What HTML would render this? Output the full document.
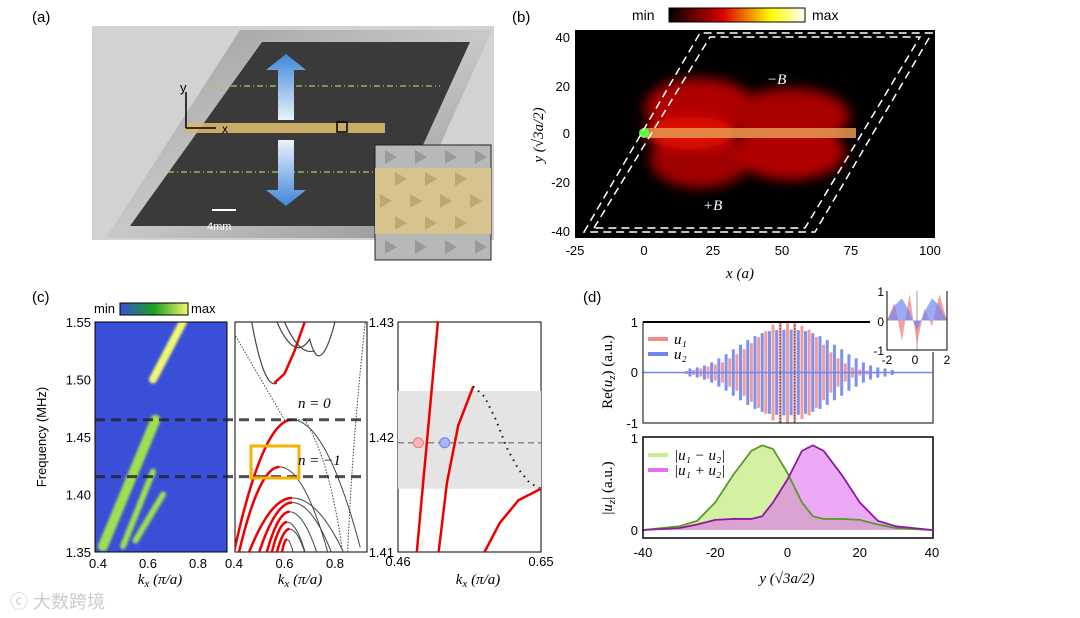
<!DOCTYPE html>
<html><head><meta charset="utf-8"><style>
html,body{margin:0;background:#fff;width:1080px;height:618px;overflow:hidden;}
svg{display:block;font-family:"Liberation Sans",sans-serif;}
.ser{font-family:"Liberation Serif",serif;font-style:italic;}
</style></head><body>
<svg id="fig" width="1080" height="618" viewBox="0 0 1080 618">
<defs>
<linearGradient id="metal" x1="0" y1="0" x2="1" y2="1"><stop offset="0" stop-color="#9a9a9a"/><stop offset="0.5" stop-color="#c8c8c8"/><stop offset="1" stop-color="#8d8d8d"/></linearGradient>
<linearGradient id="arrowG" x1="0" y1="0" x2="0" y2="1"><stop offset="0" stop-color="#3f86d8"/><stop offset="1" stop-color="#eaf2fb"/></linearGradient>
<linearGradient id="arrowG2" x1="0" y1="1" x2="0" y2="0"><stop offset="0" stop-color="#3f86d8"/><stop offset="1" stop-color="#eaf2fb"/></linearGradient>
<linearGradient id="hotbar" x1="0" x2="1"><stop offset="0" stop-color="#000"/><stop offset="0.4" stop-color="#d00"/><stop offset="0.75" stop-color="#ff0"/><stop offset="1" stop-color="#fff"/></linearGradient>
<linearGradient id="gbar" x1="0" x2="1"><stop offset="0" stop-color="#3a4fd8"/><stop offset="0.5" stop-color="#1aa020"/><stop offset="1" stop-color="#f4f86a"/></linearGradient>
<filter id="blur6"><feGaussianBlur stdDeviation="6"/></filter>
<filter id="blur2"><feGaussianBlur stdDeviation="1.4"/></filter>
<clipPath id="cp1"><rect x="95" y="322" width="132" height="230"/></clipPath>
<clipPath id="cp2"><rect x="235" y="322" width="132" height="230"/></clipPath>
<clipPath id="cp3"><rect x="398" y="322" width="143" height="230"/></clipPath>
<clipPath id="cpb"><rect x="575" y="30" width="360" height="208"/></clipPath>
</defs>

<!-- Panel a -->
<g>
<text x="32" y="22" font-size="15">(a)</text>
<rect x="92" y="26" width="402" height="214" fill="#d2d2d2"/>
<polygon points="240,30 492,30 398,238 106,238" fill="url(#metal)"/>
<polygon points="262,42 470,42 386,226 130,226" fill="#3a3a3a"/>
<line x1="205" y1="86" x2="440" y2="86" stroke="#9fd25a" stroke-dasharray="6,3,1,3" stroke-width="1.2"/>
<line x1="168" y1="172" x2="404" y2="172" stroke="#9fd25a" stroke-dasharray="6,3,1,3" stroke-width="1.2"/>
<rect x="185" y="123" width="200" height="10" fill="#d8b86a" opacity="0.9"/>
<rect x="337" y="122" width="10" height="10" fill="none" stroke="#000" stroke-width="1.5"/>
<polygon points="286,54 266,70 278,70 278,120 294,120 294,70 306,70" fill="url(#arrowG)"/>
<polygon points="286,206 266,190 278,190 278,140 294,140 294,190 306,190" fill="url(#arrowG2)"/>
<line x1="186" y1="128" x2="186" y2="92" stroke="#000" stroke-width="1.5"/><line x1="186" y1="128" x2="216" y2="128" stroke="#000" stroke-width="1.5"/>
<text x="180" y="92" font-size="13">y</text><text x="222" y="133" font-size="12">x</text>
<line x1="212" y1="210" x2="236" y2="210" stroke="#fff" stroke-width="2"/>
<text x="207" y="230" font-size="11" fill="#fff">4mm</text>
<g>
<rect x="375" y="145" width="116" height="115" fill="#b8b8b8" stroke="#222"/>
<rect x="375" y="168" width="116" height="66" fill="#d7c38f"/>
<g fill="#9a9a9a">
<polygon points="385,150 397,157 385,164"/><polygon points="415,150 427,157 415,164"/><polygon points="445,150 457,157 445,164"/><polygon points="475,150 487,157 475,164"/>
<polygon points="385,240 397,247 385,254"/><polygon points="415,240 427,247 415,254"/><polygon points="445,240 457,247 445,254"/><polygon points="475,240 487,247 475,254"/>
</g>
<g fill="#bfa86e">
<polygon points="395,172 407,179 395,186"/><polygon points="425,172 437,179 425,186"/><polygon points="455,172 467,179 455,186"/>
<polygon points="380,194 392,201 380,208"/><polygon points="410,194 422,201 410,208"/><polygon points="440,194 452,201 440,208"/><polygon points="470,194 482,201 470,208"/>
<polygon points="395,216 407,223 395,230"/><polygon points="425,216 437,223 425,230"/><polygon points="455,216 467,223 455,230"/>
</g></g>
</g>

<!-- Panel b -->
<g>
<text x="512" y="22" font-size="15">(b)</text>
<text x="632" y="20" font-size="14">min</text>
<rect x="669" y="8" width="136" height="14" fill="url(#hotbar)" stroke="#000"/>
<text x="812" y="20" font-size="14">max</text>
<rect x="575" y="30" width="360" height="208" fill="#000"/>
<g clip-path="url(#cpb)" filter="url(#blur6)">
<ellipse cx="700" cy="108" rx="55" ry="30" fill="#b00000"/>
<ellipse cx="790" cy="116" rx="60" ry="28" fill="#a80000"/>
<ellipse cx="700" cy="160" rx="50" ry="28" fill="#a00000"/>
<ellipse cx="790" cy="152" rx="55" ry="28" fill="#b00000"/>
<ellipse cx="690" cy="133" rx="45" ry="16" fill="#e01000"/>
</g>
<rect x="646" y="128" width="210" height="10" fill="#e89a50" opacity="0.85"/>
<circle cx="644" cy="133" r="5" fill="#5aff40"/>
<polygon points="584,232 700,33 932,33 815,232" fill="none" stroke="#fff" stroke-width="1.5" stroke-dasharray="8,5"/>
<polygon points="594,228 710,37 920,37 805,228" fill="none" stroke="#fff" stroke-width="1.5" stroke-dasharray="8,5"/>
<text x="767" y="84" font-size="15" fill="#fff" class="ser">−B</text>
<text x="703" y="210" font-size="15" fill="#fff" class="ser">+B</text>
<g font-size="13" text-anchor="end">
<text x="570" y="42">40</text><text x="570" y="91">20</text><text x="570" y="138">0</text><text x="570" y="187">-20</text><text x="570" y="236">-40</text></g>
<g font-size="13" text-anchor="middle">
<text x="575" y="255">-25</text><text x="644" y="255">0</text><text x="713" y="255">25</text><text x="782" y="255">50</text><text x="851" y="255">75</text><text x="930" y="255">100</text></g>
<text x="740" y="278" font-size="15" text-anchor="middle" class="ser">x (a)</text>
<text transform="translate(543,135) rotate(-90)" font-size="15" text-anchor="middle" class="ser">y (√3a/2)</text>
</g>

<!-- Panel c -->
<g>
<text x="32" y="302" font-size="15">(c)</text>
<text x="94" y="313" font-size="13">min</text>
<rect x="120" y="303" width="68" height="12" fill="url(#gbar)" stroke="#000"/>
<text x="191" y="313" font-size="13">max</text>
<rect x="95" y="322" width="132" height="230" fill="#3a4fd8"/>
<g id="c1marks" clip-path="url(#cp1)" filter="url(#blur2)"></g>
<rect x="95" y="322" width="132" height="230" fill="none" stroke="#000"/>
<rect x="235" y="322" width="132" height="230" fill="#fff" stroke="#000"/>
<g id="c2marks" clip-path="url(#cp2)"></g>
<rect x="398" y="322" width="143" height="230" fill="#fff" stroke="#000"/>
<g id="c3marks" clip-path="url(#cp3)"></g>
<g id="cDash"></g>
<rect x="251" y="446" width="48" height="32" fill="none" stroke="#f5b000" stroke-width="3"/>
<text x="298" y="408" font-size="15" class="ser">n = 0</text>
<text x="298" y="465" font-size="15" class="ser">n = −1</text>
<g id="cTicks" font-size="13"></g>
<text x="160" y="584" font-size="15" text-anchor="middle" class="ser">k<tspan font-size="11" dy="3">x</tspan><tspan dy="-3"> (π/a)</tspan></text>
<text x="300" y="584" font-size="15" text-anchor="middle" class="ser">k<tspan font-size="11" dy="3">x</tspan><tspan dy="-3"> (π/a)</tspan></text>
<text x="478" y="584" font-size="15" text-anchor="middle" class="ser">k<tspan font-size="11" dy="3">x</tspan><tspan dy="-3"> (π/a)</tspan></text>
<text transform="translate(46,437) rotate(-90)" font-size="13" text-anchor="middle">Frequency (MHz)</text>
</g>

<!-- Panel d -->
<g>
<text x="583" y="302" font-size="15">(d)</text>
<g id="dTop"></g>
<g id="dBot"></g>
<g id="dInset"></g>
<text transform="translate(612,372) rotate(-90)" font-size="15" text-anchor="middle" font-family="Liberation Serif">Re(<tspan font-style="italic">u<tspan font-size="11" dy="3">z</tspan></tspan><tspan dy="-3">) (a.u.)</tspan></text>
<text transform="translate(612,488) rotate(-90)" font-size="15" text-anchor="middle" font-family="Liberation Serif">|<tspan font-style="italic">u<tspan font-size="11" dy="3">z</tspan></tspan><tspan dy="-3">| (a.u.)</tspan></text>
<text x="787" y="583" font-size="15" text-anchor="middle" class="ser">y (√3a/2)</text>
</g>

<text x="10" y="608" font-size="18" fill="#ccc" font-family="'Liberation Sans','Noto Sans CJK SC',sans-serif">ⓒ 大数跨境</text>
</svg>

<script>
// ---------- data ----------
const bandKStart = [0.40, 0.42, 0.46, 0.50, 0.53, 0.55, 0.57, 0.59];
const bandKPeak  = [0.63, 0.58, 0.63, 0.63, 0.62, 0.61, 0.62, 0.61];
const bandFPeak  = [1.465, 1.424, 1.397, 1.393, 1.385, 1.376, 1.370, 1.361];
const upperBandK = [0.56, 0.60, 0.64, 0.68];
const upperBandF = [1.497, 1.505, 1.525, 1.550];
const modeLines  = [1.465, 1.4155];
const streakK0 = [0.42, 0.50, 0.55, 0.62];
const streakF0 = [1.355, 1.355, 1.360, 1.500];
const streakK1 = [0.63, 0.62, 0.66, 0.74];
const streakF1 = [1.465, 1.420, 1.400, 1.550];
const c3BandF = [1.4155, 1.424];
const c3Line1K = [0.485, 0.513], c3Line1F = [1.41, 1.43];
const c3Line2K = [0.514, 0.525, 0.540, 0.560], c3Line2F = [1.41, 1.416, 1.421, 1.4244];
const c3DotK = [0.560, 0.575, 0.590, 0.605, 0.620, 0.635, 0.650], c3DotF = [1.4244, 1.4235, 1.4215, 1.419, 1.4172, 1.4160, 1.4155];
const c3Line3K = [0.575, 0.595, 0.62, 0.65], c3Line3F = [1.41, 1.4125, 1.4145, 1.4155];
const c3Marker = [0.487, 0.522], c3MarkerF = 1.4195;
const barY = [-28,-26,-24,-22,-20,-18,-16,-14,-12,-10,-8,-6,-4,-2,0,2,4,6,8,10,12,14,16,18,20,22,24,26,28];
const u1Amp = [0.03,0.05,0.08,0.12,0.16,0.2,0.28,0.36,0.46,0.58,0.7,0.82,0.95,1.0,1.0,0.97,0.92,0.85,0.7,0.55,0.4,0.28,0.18,0.1,0.06,0.04,0.02,0.01,0.01];
const u2Amp = [0.08,0.1,0.14,0.2,0.28,0.36,0.46,0.55,0.64,0.72,0.78,0.82,0.84,0.85,0.85,0.84,0.82,0.78,0.72,0.64,0.55,0.46,0.36,0.28,0.2,0.14,0.1,0.08,0.05];
const envY = [-40,-30,-25,-20,-15,-10,-7,-4,0,4,7,10,15,20,25,30,35,40];
const greenEnv  = [0.0,0.04,0.1,0.3,0.6,0.86,0.92,0.88,0.62,0.3,0.15,0.12,0.12,0.11,0.06,0.02,0.01,0.0];
const purpleEnv = [0.0,0.02,0.06,0.11,0.12,0.12,0.15,0.3,0.55,0.86,0.92,0.86,0.6,0.3,0.1,0.04,0.02,0.0];
const xTicksD = [-40,-20,0,20,40];
const insetY = [-2,-1.5,-1,-0.5,0,0.5,1,1.5,2];
const insetU1 = [0.0,0.6,-0.7,0.9,-0.8,0.4,-0.2,0.9,0.0];
const insetU2 = [0.0,0.5,0.75,0.3,-0.35,0.3,0.75,0.5,0.0];

const NS = 'http://www.w3.org/2000/svg';
function mk(parent, tag, attrs){const e=document.createElementNS(NS,tag);for(const k in attrs)e.setAttribute(k,attrs[k]);parent.appendChild(e);return e;}
function lin(d0,d1,r0,r1){return v=>r0+(v-d0)/(d1-d0)*(r1-r0);}

// ---------- panel c ----------
const fy = lin(1.35,1.55,552,322);
const kx1 = lin(0.4,0.8,98,198), kx2 = lin(0.4,0.8,234,335);
const c1 = document.getElementById('c1marks');
streakK0.forEach((k,i)=>{
  const l = mk(c1,'line',{x1:kx1(k),y1:fy(streakF0[i]),x2:kx1(streakK1[i]),y2:fy(streakF1[i]),stroke:i===3?'#f0f870':'#9ee050','stroke-width':i===0?10:i===3?8:6,'stroke-linecap':'round'});
  
  
});
const c2 = document.getElementById('c2marks');
bandKPeak.forEach((kp,i)=>{
  const ks=bandKStart[i], fp=bandFPeak[i];
  const c=(fp-1.35)/Math.pow(kp-ks,2);
  let red='',gray='';
  for(let t=0;t<=30;t++){const k=ks+(kp-ks)*t/30;red+=(t?'L':'M')+kx2(k)+','+fy(fp-c*(k-kp)**2);}
  for(let t=0;t<=30;t++){const k=kp+(0.9-kp)*t/30;gray+=(t?'L':'M')+kx2(k)+','+fy(fp-c*0.7*(k-kp)**2);}
  const g=mk(c2,'path',{d:gray,fill:'none',stroke:'#444','stroke-width':1});
  
  
  const r=mk(c2,'path',{d:red,fill:'none',stroke:'#e00','stroke-width':2.5});
  
  
});
let up='';upperBandK.forEach((k,i)=>{up+=(i?'L':'M')+kx2(k)+','+fy(upperBandF[i]);});
const upr=mk(c2,'path',{d:up,fill:'none',stroke:'#e00','stroke-width':2.5});


mk(c2,'path',{d:`M${kx2(0.47)},${fy(1.55)} Q${kx2(0.52)},${fy(1.49)} ${kx2(0.57)},${fy(1.497)} M${kx2(0.57)},${fy(1.55)} Q${kx2(0.64)},${fy(1.515)} ${kx2(0.7)},${fy(1.535)} Q${kx2(0.74)},${fy(1.50)} ${kx2(0.8)},${fy(1.55)} M${kx2(0.6)},${fy(1.55)} Q${kx2(0.66)},${fy(1.52)} ${kx2(0.72)},${fy(1.525)}`,fill:'none',stroke:'#444','stroke-width':1.2});
mk(c2,'path',{d:`M${kx2(0.4)},${fy(1.54)} L${kx2(0.6)},${fy(1.465)} L${kx2(0.68)},${fy(1.465)} Q${kx2(0.78)},${fy(1.43)} ${kx2(0.83)},${fy(1.35)} M${kx2(0.85)},${fy(1.35)} Q${kx2(0.87)},${fy(1.45)} ${kx2(0.92)},${fy(1.55)}`,fill:'none',stroke:'#444','stroke-width':1,'stroke-dasharray':'1.5,1.5'});
const cd=document.getElementById('cDash');
modeLines.forEach(f=>{
  const l=mk(cd,'line',{x1:95,x2:367,y1:fy(f),y2:fy(f),stroke:'#222','stroke-width':3,'stroke-dasharray':'10,6',opacity:0.8});
  
  
});
const fy3=lin(1.41,1.43,552,322), kx3=lin(0.46,0.65,398,541);
const c3=document.getElementById('c3marks');
mk(c3,'rect',{x:398,width:143,y:fy3(c3BandF[1]),height:fy3(c3BandF[0])-fy3(c3BandF[1]),fill:'#e4e4e4'});
function poly(K,F,attrs,name){let d='';K.forEach((k,i)=>{d+=(i?'L':'M')+kx3(k)+','+fy3(F[i]);});const p=mk(c3,'path',Object.assign({d,fill:'none'},attrs));}
poly(c3Line1K,c3Line1F,{stroke:'#e00','stroke-width':2.5},'red-line-1');
poly(c3Line2K,c3Line2F,{stroke:'#e00','stroke-width':2.5},'red-line-2');
poly(c3DotK,c3DotF,{stroke:'#111','stroke-width':2,'stroke-dasharray':'1.5,5'},'dotted-band');
poly(c3Line3K,c3Line3F,{stroke:'#e00','stroke-width':2.5},'red-line-3');
mk(c3,'line',{x1:398,x2:541,y1:fy3(c3MarkerF),y2:fy3(c3MarkerF),stroke:'#888','stroke-width':1.5,'stroke-dasharray':'6,4'});
c3Marker.forEach((k,i)=>{const c=mk(c3,'circle',{cx:kx3(k),cy:fy3(c3MarkerF),r:5,fill:i?'#a9b8f5':'#f5b5b5',stroke:i?'#7080e0':'#e08080'});});
const ct=document.getElementById('cTicks');
[1.35,1.40,1.45,1.50,1.55].forEach(f=>{const t=mk(ct,'text',{x:91,y:fy(f)+5,'text-anchor':'end'});t.textContent=f.toFixed(2);});
[0.4,0.6,0.8].forEach(k=>{let t=mk(ct,'text',{x:kx1(k),y:568,'text-anchor':'middle'});t.textContent=k;t=mk(ct,'text',{x:kx2(k),y:568,'text-anchor':'middle'});t.textContent=k;});
[1.41,1.42,1.43].forEach(f=>{const t=mk(ct,'text',{x:394,y:fy3(f)+5,'text-anchor':'end'});t.textContent=f.toFixed(2);});
[[0.46,398],[0.65,541]].forEach(([k,x])=>{const t=mk(ct,'text',{x,y:566,'text-anchor':'middle'});t.textContent=k.toFixed(2);});

// ---------- panel d ----------
const dx=lin(-40,40,643,932);
const dt=document.getElementById('dTop'), ty=lin(-1,1,423,322);
barY.forEach((y,i)=>{
  const a=mk(dt,'line',{x1:dx(y),x2:dx(y),y1:ty(u1Amp[i]),y2:ty(-u1Amp[i]),stroke:'#f08a8a','stroke-width':3,opacity:0.85});
  
  
  const b=mk(dt,'line',{x1:dx(y+1),x2:dx(y+1),y1:ty(u2Amp[i]),y2:ty(-u2Amp[i]),stroke:'#6f86ee','stroke-width':3,opacity:0.9});
  
  
});
mk(dt,'line',{x1:643,x2:932,y1:ty(0),y2:ty(0),stroke:'#6f86ee','stroke-width':1.5});
mk(dt,'line',{x1:dx(-2),x2:dx(-2),y1:322,y2:423,stroke:'#333','stroke-dasharray':'1.5,1.5'});
mk(dt,'line',{x1:dx(2),x2:dx(2),y1:322,y2:423,stroke:'#333','stroke-dasharray':'1.5,1.5'});
mk(dt,'rect',{x:643,y:322,width:290,height:101,fill:'none',stroke:'#000'});
mk(dt,'line',{x1:643,x2:933,y1:322,y2:322,stroke:'#000','stroke-width':2});
[[1,322],[0,372],[-1,423]].forEach(([v,y])=>{const t=mk(dt,'text',{x:638,y:y+5,'font-size':13,'text-anchor':'end'});t.textContent=v;});
mk(dt,'line',{x1:648,x2:668,y1:339,y2:339,stroke:'#f08a8a','stroke-width':4});
mk(dt,'line',{x1:648,x2:668,y1:354,y2:354,stroke:'#6f86ee','stroke-width':4});
let t1=mk(dt,'text',{x:674,y:344,'font-size':15,class:'ser'});t1.textContent='u₁';
t1=mk(dt,'text',{x:674,y:359,'font-size':15,class:'ser'});t1.textContent='u₂';

const db=document.getElementById('dBot'), by=lin(0,1,530,438);
function envPath(vals,close){let d='';envY.forEach((y,i)=>{d+=(i?'L':'M')+dx(y)+','+by(vals[i]);});if(close)d+=`L${dx(40)},${by(0)}L${dx(-40)},${by(0)}Z`;return d;}
mk(db,'path',{d:envPath(greenEnv,true),fill:'#c8ec8c',opacity:0.8});
mk(db,'path',{d:envPath(purpleEnv,true),fill:'#e070f0',opacity:0.6});
const ge=mk(db,'path',{d:envPath(greenEnv),fill:'none',stroke:'#5a9a28','stroke-width':1.8});


const pe=mk(db,'path',{d:envPath(purpleEnv),fill:'none',stroke:'#8a1aa0','stroke-width':1.8});


mk(db,'rect',{x:643,y:437,width:290,height:101,fill:'none',stroke:'#000','stroke-width':1.5});
[[1,438],[0,530]].forEach(([v,y])=>{const t=mk(db,'text',{x:638,y:y+5,'font-size':13,'text-anchor':'end'});t.textContent=v;});
xTicksD.forEach(v=>{const t=mk(db,'text',{x:dx(v),y:557,'font-size':13,'text-anchor':'middle'});t.textContent=v;});
mk(db,'line',{x1:648,x2:668,y1:455,y2:455,stroke:'#c8ec8c','stroke-width':4});
mk(db,'line',{x1:648,x2:668,y1:470,y2:470,stroke:'#e070f0','stroke-width':4});
t1=mk(db,'text',{x:674,y:460,'font-size':15,class:'ser'});t1.textContent='|u₁ − u₂|';
t1=mk(db,'text',{x:674,y:475,'font-size':15,class:'ser'});t1.textContent='|u₁ + u₂|';

const di=document.getElementById('dInset'), ix=lin(-2,2,887,947), iy=lin(-1,1,350,291);
mk(di,'rect',{x:870,y:286,width:80,height:66,fill:'#fff'});
mk(di,'line',{x1:ix(0),x2:ix(0),y1:291,y2:350,stroke:'#ccc','stroke-width':2});
function ip(vals){let d=`M${ix(-2)},${iy(0)}`;insetY.forEach((y,i)=>{d+=`L${ix(y)},${iy(vals[i])}`;});return d+'Z';}
mk(di,'path',{d:ip(insetU1),fill:'#f08a8a',opacity:0.8});
mk(di,'path',{d:ip(insetU2),fill:'#6f86ee',opacity:0.7});
mk(di,'path',{d:`M887,291 L887,350 L947,350 L947,291`,fill:'none',stroke:'#000'});
[[1,296],[0,326],[-1,355]].forEach(([v,y])=>{const t=mk(di,'text',{x:884,y,'font-size':12,'text-anchor':'end'});t.textContent=v;});
[[-2,887],[0,915],[2,947]].forEach(([v,x])=>{const t=mk(di,'text',{x,y:364,'font-size':12,'text-anchor':'middle'});t.textContent=v;});
</script>
</body></html>
